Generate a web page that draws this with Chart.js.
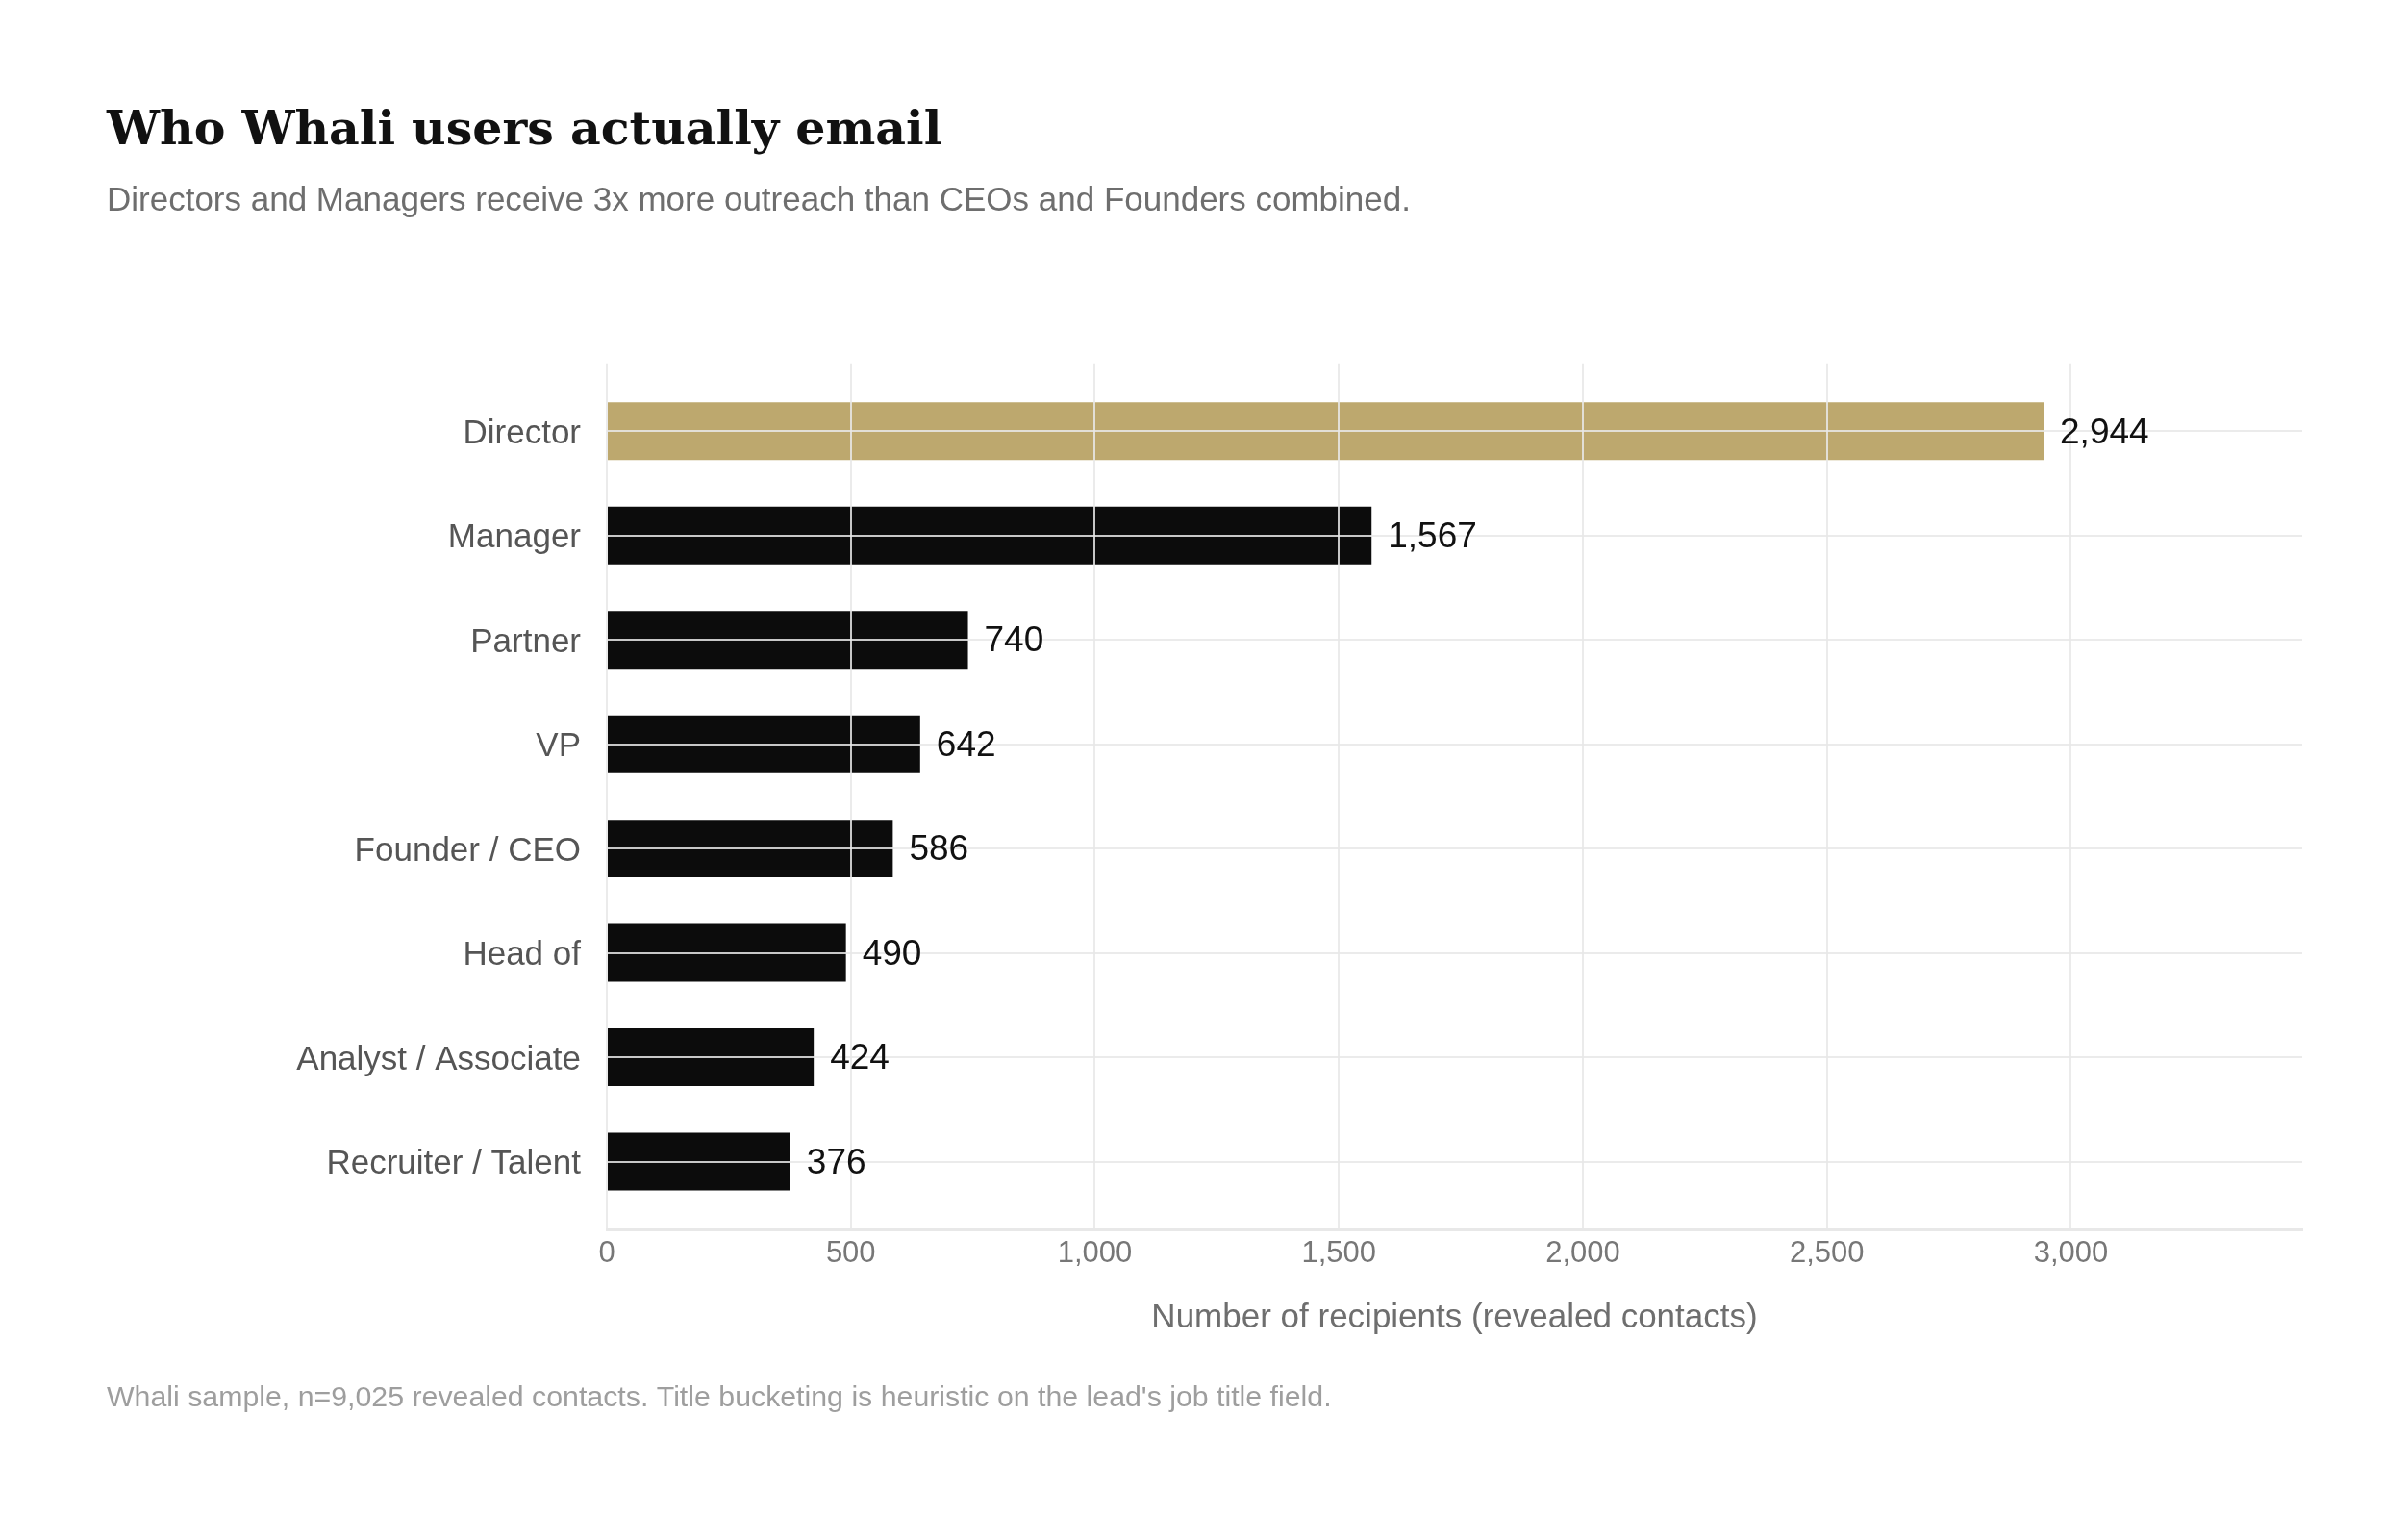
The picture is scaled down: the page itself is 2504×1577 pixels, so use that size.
<!DOCTYPE html>
<html>
<head>
<meta charset="utf-8">
<script src="https://cdn.jsdelivr.net/npm/chart.js@4.4.1/dist/chart.umd.min.js"></script>
<style>
html,body{margin:0;padding:0;background:#ffffff;overflow:hidden}
#wrap{width:2504px;height:1577px}
</style>
</head>
<body>
<div id="wrap"><canvas id="c" width="2504" height="1577"></canvas></div>
<script>
// ---- data ----
const categories = ['Director', 'Manager', 'Partner', 'VP', 'Founder / CEO', 'Head of', 'Analyst / Associate', 'Recruiter / Talent'];
const recipients = [2944, 1567, 740, 642, 586, 490, 424, 376];
const xTickValues = [0, 500, 1000, 1500, 2000, 2500, 3000];
const highlightCategory = 'Director';
const titleText = 'Who Whali users actually email';
const subtitleText = 'Directors and Managers receive 3x more outreach than CEOs and Founders combined.';
const xAxisTitle = 'Number of recipients (revealed contacts)';
const footnoteText = "Whali sample, n=9,025 revealed contacts. Title bucketing is heuristic on the lead's job title field.";

const SANS = "'Liberation Sans', Arial, Helvetica, sans-serif";
const SERIF = "'DejaVu Serif', Georgia, serif";
const GRID = 'rgba(232,232,232,0.86)';
const fmt = v => Number(v).toLocaleString('en-US');

const valueLabels = {
  id: 'valueLabels',
  afterDraw(chart) {
    const ctx = chart.ctx;
    const meta = chart.getDatasetMeta(0);
    ctx.save();
    ctx.font = '37px ' + SANS;
    ctx.fillStyle = '#111111';
    ctx.textAlign = 'left';
    ctx.textBaseline = 'middle';
    meta.data.forEach((bar, i) => {
      ctx.fillText(fmt(recipients[i]), bar.x + 17, bar.y + 2);
    });
    ctx.restore();
  }
};

const footnote = {
  id: 'footnote',
  afterDraw(chart) {
    const ctx = chart.ctx;
    ctx.save();
    ctx.font = '30.3px ' + SANS;
    ctx.fillStyle = '#9e9e9e';
    ctx.textAlign = 'left';
    ctx.textBaseline = 'alphabetic';
    ctx.fillText(footnoteText, 111, 1462);
    ctx.restore();
  }
};

new Chart(document.getElementById('c'), {
  type: 'bar',
  data: {
    datasets: [{
      data: categories.map((c, i) => ({ x: recipients[i], y: i })),
      backgroundColor: ctx => categories[ctx.dataIndex] === highlightCategory ? '#bda86e' : '#0c0c0c',
      borderWidth: 0,
      barPercentage: 0.553,
      categoryPercentage: 1
    }]
  },
  options: {
    indexAxis: 'y',
    responsive: false,
    devicePixelRatio: 1,
    animation: false,
    layout: { padding: { top: 0, left: 111, right: 110, bottom: 159 } },
    plugins: {
      legend: { display: false },
      tooltip: { enabled: false },
      title: {
        display: true,
        text: titleText,
        align: 'start',
        color: '#111111',
        font: { family: SERIF, weight: 'bold', size: 49, lineHeight: 1.2 },
        padding: { top: 108, bottom: 0 }
      },
      subtitle: {
        display: true,
        text: subtitleText,
        align: 'start',
        color: '#6e6e6e',
        font: { family: SANS, size: 35, lineHeight: 1.2 },
        padding: { top: 22, bottom: 147 }
      }
    },
    scales: {
      x: {
        type: 'linear',
        position: 'bottom',
        min: 0,
        max: Math.round(Math.max(...recipients) * 1.18),
        afterBuildTicks: s => { s.ticks = xTickValues.map(v => ({ value: v })); },
        afterFit: s => { s.height = 140; },
        grid: { color: GRID, lineWidth: 2, drawTicks: false, z: 1 },
        border: { display: true, color: '#e8e8e8', width: 3, z: 1 },
        ticks: {
          color: '#777777',
          font: { family: SANS, size: 31 },
          padding: 7,
          maxRotation: 0,
          callback: v => fmt(v)
        },
        title: {
          display: true,
          text: xAxisTitle,
          color: '#6e6e6e',
          font: { family: SANS, size: 35, lineHeight: 1.2 },
          padding: { top: 0, bottom: 27 }
        }
      },
      y: {
        type: 'linear',
        reverse: true,
        offset: false,
        min: -0.65,
        max: 7.65,
        afterBuildTicks: s => { s.ticks = categories.map((c, i) => ({ value: i })); },
        afterFit: s => { s.width = 520; },
        grid: { color: GRID, lineWidth: 2, drawTicks: false, offset: false, z: 1 },
        border: { display: false },
        ticks: {
          color: '#555555',
          font: { family: SANS, size: 35 },
          padding: 27,
          labelOffset: 3,
          autoSkip: false,
          callback: v => categories[v]
        }
      }
    }
  },
  plugins: [valueLabels, footnote]
});
</script>
</body>
</html>
